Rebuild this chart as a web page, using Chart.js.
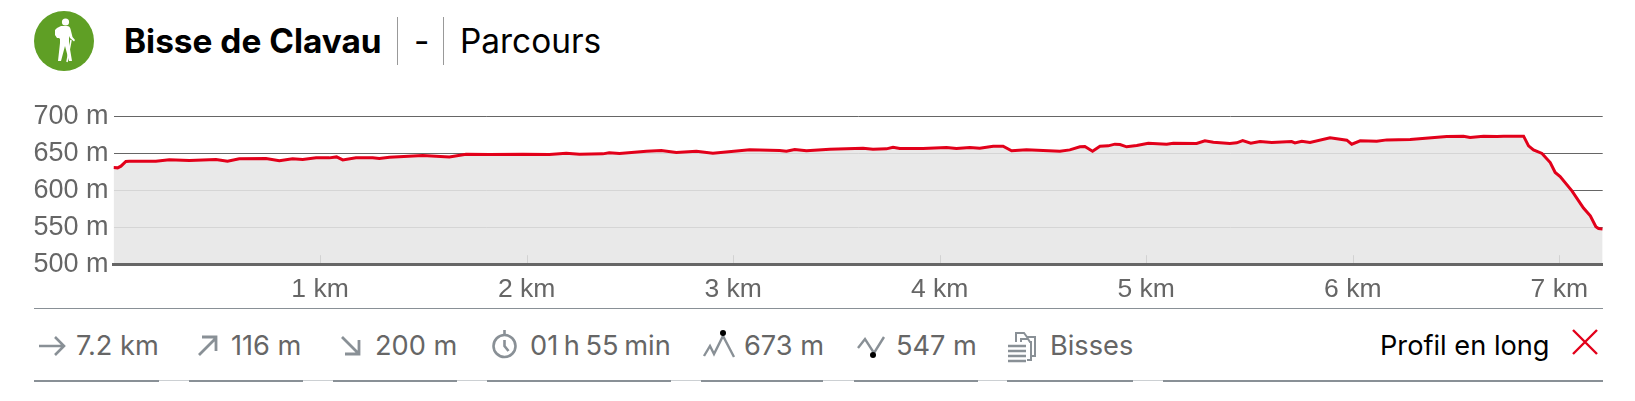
<!DOCTYPE html>
<html lang="fr">
<head>
<meta charset="utf-8">
<title>Bisse de Clavau - Parcours</title>
<script src="https://cdn.jsdelivr.net/npm/chart.js@4"></script>
<style>
  html, body { margin: 0; padding: 0; background: #fff; overflow: hidden; }
  body { width: 1635px; height: 401px; position: relative; font-family: Inter, sans-serif; }
  .abs { position: absolute; white-space: nowrap; }
  .title { font-size: 33.4px; line-height: 40px; top: 21px; color: #000; }
  .sep { position: absolute; top: 17px; height: 48px; width: 1px; background: #999; }
  .info { font-size: 27.2px; line-height: 30px; top: 331px; color: #666; }
  .rule { position: absolute; top: 380px; height: 2px; background: #899096; }
  .gap { position: absolute; top: 380px; height: 1px; background: #ccd0d3; }
  svg { position: absolute; overflow: visible; }
  #myChart { position: absolute; left: 0; top: 95px; }
</style>
</head>
<body>

<!-- entete -->
<svg style="left:34px;top:11px" width="60" height="60" viewBox="0 0 60 60">
  <circle cx="30" cy="30" r="30" fill="#5f9f25"/>
  <circle cx="31.5" cy="11" r="3.6" fill="#fff"/>
  <path fill="#fff" d="M23 17l4-2h6c2 0 3 1 3.500 3l2 8 2.500 3-1 1.500-4-3.500-1-2v7l3 18h-3l-4-15-4 15h-3l2-18v-4l-1-1h-2l-2-3v-5z"/>
  <path stroke="#fff" stroke-width="1.500" d="M33 51l4-22"/>
</svg>
<div class="abs title" style="left:124px;font-weight:700">Bisse de Clavau</div>
<div class="sep" style="left:397px"></div>
<div class="abs title" style="left:414px">-</div>
<div class="sep" style="left:443px"></div>
<div class="abs title" style="left:460px">Parcours</div>

<canvas id="myChart" width="1635" height="205"></canvas>

<!-- infos sous le profil -->
<div class="abs" style="left:34px;top:308px;width:1569px;height:1px;background:#899096"></div>

<svg style="left:38px;top:335px" width="28" height="22" fill="none" stroke="#899096" stroke-width="2.600">
  <path d="M1 11h25M17 2l9 9-9 9"/>
</svg>
<div class="abs info" style="left:76px">7.2 km</div>

<svg style="left:197px;top:335px" width="21" height="21" fill="none" stroke="#899096" stroke-width="2.800">
  <path d="M2 20L19 3M5 2h14v14"/>
</svg>
<div class="abs info" style="left:231px">116 m</div>

<svg style="left:340px;top:335px" width="21" height="21" fill="none" stroke="#899096" stroke-width="2.800">
  <path d="M2 2l17 17M19 5v14H5"/>
</svg>
<div class="abs info" style="left:375px">200 m</div>

<svg style="left:491px;top:330px" width="28" height="28" fill="none" stroke="#899096" stroke-width="2.600">
  <circle cx="13.500" cy="16" r="11"/>
  <path d="M13.500 0v5M13.500 10v6l4 5"/>
</svg>
<div class="abs info" style="left:530px;word-spacing:-2px">01 h 55 min</div>

<svg style="left:703px;top:330px" width="33" height="28" fill="none" stroke="#899096" stroke-width="2.400">
  <path d="M1 26l6-10 4 8 9-18 11 21"/>
  <circle cx="20" cy="3" r="3" fill="#000" stroke="none"/>
</svg>
<div class="abs info" style="left:744px">673 m</div>

<svg style="left:857px;top:335px" width="29" height="24" fill="none" stroke="#899096" stroke-width="2.400">
  <path d="M1 13l7-9 9 14 10-16"/>
  <circle cx="16" cy="20" r="3" fill="#000" stroke="none"/>
</svg>
<div class="abs info" style="left:896px">547 m</div>

<svg style="left:1008px;top:330px" width="32" height="33" fill="none" stroke="#899096" stroke-width="2">
  <path d="M8 12V3h8l3 4h8v19h-5M13 12v-3h7l2 3h1v18h-4"/>
  <path stroke-width="2.600" d="M0 16h18M0 21h18M0 26h18M0 31h18"/>
</svg>
<div class="abs info" style="left:1050px">Bisses</div>

<div class="abs info" style="left:1380px;color:#000">Profil en long</div>
<svg style="left:1572px;top:329px" width="26" height="26" fill="none" stroke="#e2001a" stroke-width="2.400">
  <path d="M1 1l24 24M25 1L1 25"/>
</svg>

<div class="rule" style="left:34px;width:125px"></div><div class="gap" style="left:159px;width:30px"></div>
<div class="rule" style="left:189px;width:114px"></div><div class="gap" style="left:303px;width:30px"></div>
<div class="rule" style="left:333px;width:124px"></div><div class="gap" style="left:457px;width:30px"></div>
<div class="rule" style="left:487px;width:184px"></div><div class="gap" style="left:671px;width:30px"></div>
<div class="rule" style="left:701px;width:122px"></div><div class="gap" style="left:823px;width:31px"></div>
<div class="rule" style="left:854px;width:124px"></div><div class="gap" style="left:978px;width:29px"></div>
<div class="rule" style="left:1007px;width:126px"></div><div class="gap" style="left:1133px;width:30px"></div>
<div class="rule" style="left:1163px;width:440px"></div>

<script>
// profil: distance en km, altitude en m
const distances = [0, 0.02, 0.036, 0.06, 0.076, 0.205, 0.27, 0.367, 0.496, 0.552, 0.609, 0.738, 0.803, 0.867, 0.916, 0.981,
  1.045, 1.08, 1.11, 1.174, 1.255, 1.287, 1.336, 1.497, 1.626, 1.707, 1.82, 1.982, 2.11, 2.192, 2.256, 2.369, 2.4, 2.45, 2.58,
  2.652, 2.725, 2.822, 2.902, 3.08, 3.225, 3.258, 3.298, 3.355, 3.468, 3.629, 3.677, 3.742, 3.774, 3.807, 3.919, 4.033, 4.081,
  4.146, 4.194, 4.259, 4.307, 4.348, 4.42, 4.582, 4.63, 4.679, 4.703, 4.74, 4.776, 4.816, 4.848, 4.873, 4.905, 4.954, 5.01,
  5.099, 5.131, 5.244, 5.284, 5.325, 5.405, 5.438, 5.467, 5.506, 5.551, 5.608, 5.704, 5.72, 5.753, 5.793, 5.89, 5.971, 5.995,
  6.036, 6.116, 6.165, 6.278, 6.455, 6.536, 6.568, 6.633, 6.698, 6.73, 6.827, 6.851, 6.875, 6.916, 6.956, 6.98, 7.004, 7.061,
  7.117, 7.15, 7.177, 7.19, 7.21];
const elevations = [630.6, 630.2, 632.5, 638.8, 639.2, 639.2, 641, 640.1, 641.5, 639.2, 642.4, 642.8, 639.7, 642.4, 641.5, 643.7,
  643.7, 645, 641, 643.7, 643.7, 642.8, 644.6, 646.9, 645, 648.7, 648.2, 648.7, 648.2, 650, 648.7, 649.1, 650.5, 649.6, 652.7,
  653.6, 650.9, 652.7, 650, 654.5, 653.6, 652.7, 655, 653.2, 655.4, 656.8, 655.4, 655.9, 658.1, 656.3, 656.3, 657.7, 656.3,
  657.7, 656.8, 659.5, 659.5, 653.2, 654.5, 652.7, 654.5, 658.6, 659, 652.7, 659.5, 659.9, 662.2, 661.7, 658.6, 660.4, 663.5,
  662.2, 663.5, 663.1, 666.7, 664.9, 663.1, 664, 667.1, 663.5, 665.8, 664.4, 665.8, 664, 666.2, 664.4, 670.7, 667.6, 662.2,
  666.7, 666.2, 668, 668.5, 672.5, 673, 671.2, 673, 672.5, 673, 673, 659.9, 654.5, 649.6, 637.4, 623.9, 618.5, 599.2,
  575.8, 565.4, 550.6, 548.3, 547.4];
const kmTicks = [1, 2, 3, 4, 5, 6, 7];
const altTicks = [500, 550, 600, 650, 700];

// petits traits dans le remplissage au dessus de chaque km
const kmMarks = {
  id: 'kmMarks',
  afterDatasetsDraw(chart) {
    const x = chart.scales.x, c = chart.ctx, bottom = chart.chartArea.bottom;
    c.save();
    c.strokeStyle = '#d2d2d2';
    c.lineWidth = 1;
    kmTicks.forEach(function(km) {
      const px = Math.round(x.getPixelForValue(km)) + 0.5;
      c.beginPath();
      c.moveTo(px, bottom - 9);
      c.lineTo(px, bottom - 1);
      c.stroke();
    });
    c.restore();
  }
};

const ctx = document.getElementById('myChart');

const myChart = new Chart(ctx, {
  type: 'line',
  plugins: [kmMarks],
  data: {
    datasets: [{
      data: distances.map(function(d, i) { return { x: d, y: elevations[i] }; }),
      borderColor: '#e2001a',
      borderWidth: 3,
      pointRadius: 0,
      tension: 0,
      fill: 'start',
      backgroundColor: 'rgba(230,230,230,0.87)'
    }]
  },
  options: {
    responsive: false,
    animation: false,
    layout: { padding: { top: 19.5, right: 32.3, left: 0, bottom: 0 } },
    plugins: { legend: { display: false }, tooltip: { enabled: false } },
    scales: {
      x: {
        type: 'linear',
        min: 0,
        max: 7.21,
        afterBuildTicks: function(axis) { axis.ticks = kmTicks.map(function(v) { return { value: v }; }); },
        afterFit: function(axis) { axis.height = 35.8; },
        grid: { display: false, drawTicks: false },
        border: { display: true, color: '#666', width: 3, z: 1 },
        ticks: {
          color: '#666',
          padding: 10,
          maxRotation: 0,
          autoSkip: false,
          font: { family: 'Liberation Sans', size: 26.5 },
          callback: function(v) { return v + ' km'; }
        }
      },
      y: {
        min: 500,
        max: 700,
        afterBuildTicks: function(axis) { axis.ticks = altTicks.map(function(v) { return { value: v }; }); },
        afterFit: function(axis) { axis.width = 113.5; },
        grid: { color: '#666', lineWidth: 1, drawTicks: false },
        border: { display: false },
        ticks: {
          color: '#666',
          padding: 5,
          font: { family: 'Liberation Sans', size: 27 },
          callback: function(v) { return v + ' m'; }
        }
      }
    }
  }
});
</script>
</body>
</html>
